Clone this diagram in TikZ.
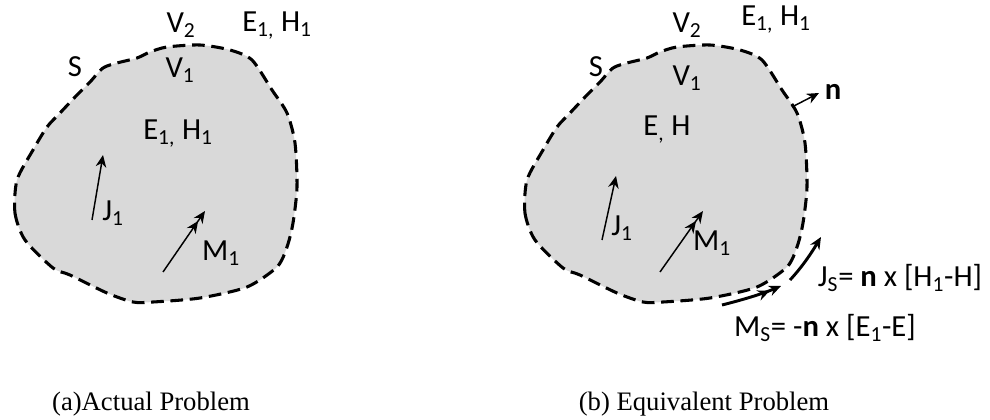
\documentclass[tikz,border=0pt]{standalone}
\usepackage{fontspec}
\setmainfont{Carlito}
\newfontfamily\capfont{Liberation Serif}
\usetikzlibrary{positioning,arrows.meta}
\newcommand{\sub}[1]{\textsubscript{#1}}
\definecolor{blobgrey}{HTML}{D9D9D9}
\tikzset{
  eq blob/.style={fill=blobgrey, draw=black, line width=2.3pt, dash pattern=on 9.5pt off 5pt},
  eq lbl/.style={font=\fontsize{23}{27}\selectfont, inner sep=1pt},
  eq arr/.style={-{Stealth[length=3.2mm, width=2.8mm]}, line width=1.1pt},
  eq arr2/.style={-{Stealth[length=3.2mm, width=2.8mm] Stealth[length=3.2mm, width=2.8mm]}, line width=1.1pt},
  eq surf/.style={line width=2.2pt},
  eq cap/.style={font=\capfont\fontsize{20}{24}\selectfont, inner sep=0pt, anchor=base},
}

\begin{document}
\begin{tikzpicture}[x=0.75pt, y=-0.75pt]
  \useasboundingbox (0,0) rectangle (990,420);
  % the same closed surface S in both panels
  \foreach \dx in {0,510}
    \draw[eq blob, shift={(\dx,0)}] plot[smooth cycle, tension=0.45] coordinates {
      (17,180) (15,213) (25,240) (53,268) (70,275) (107,293) (133,302) (153,302)
      (200,298) (247,287) (277,267) (287,247) (293,223) (297,187) (295,143) (287,113)
      (272,90) (252,60) (230,50) (200,45) (167,47) (150,52) (137,58) (117,63)
      (103,68) (90,82) (77,95) (60,113) (47,127) (33,150)};
  % (a) actual problem
  \node[eq lbl] (v2a) at (181,25) {V\sub{2}};
  \node[eq lbl] (outa) at (277,26) {E\sub{1,} H\sub{1}};
  \node[eq lbl] (sa) at (75,67) {S};
  \node[eq lbl] (v1a) at (180,70) {V\sub{1}};
  \node[eq lbl] (ina) at (178,134) {E\sub{1,} H\sub{1}};
  \node[eq lbl] (j1a) at (113,213) {J\sub{1}};
  \node[eq lbl] (m1a) at (221,253) {M\sub{1}};
  \coordinate (ja0) at (92,220);  \coordinate (ja1) at (103,155);
  \coordinate (ma0) at (163,272); \coordinate (ma1) at (205,211);
  \draw[eq arr] (ja0) -- (ja1);
  \draw[eq arr2] (ma0) -- (ma1);
  % (b) equivalent problem
  \node[eq lbl] (v2b) at (687,25) {V\sub{2}};
  \node[eq lbl] (outb) at (776,20) {E\sub{1,} H\sub{1}};
  \node[eq lbl] (sb) at (596,67) {S};
  \node[eq lbl] (v1b) at (687,78) {V\sub{1}};
  \node[eq lbl] (inb) at (667,130) {E\sub{,} H};
  \node[eq lbl] (j1b) at (622,228) {J\sub{1}};
  \node[eq lbl] (m1b) at (712,243) {M\sub{1}};
  \node[eq lbl] (nb) at (833,92) {\textbf{n}};
  \node[eq lbl] (jsb) at (900,278) {J\sub{S}= \textbf{n} x [H\sub{1}-H]};
  \node[eq lbl] (msb) at (825,328) {M\sub{S}= -\textbf{n} x [E\sub{1}-E]};
  \coordinate (jb0) at (602,240); \coordinate (jb1) at (616,176);
  \coordinate (mb0) at (660,272); \coordinate (mb1) at (703,211);
  \coordinate (n0) at (792,107);  \coordinate (n1) at (819,93);
  \coordinate (js0) at (790,280); \coordinate (js1) at (821,237);
  \coordinate (ms0) at (722,305); \coordinate (ms1) at (781,286);
  \draw[eq arr] (jb0) -- (jb1);
  \draw[eq arr2] (mb0) -- (mb1);
  \draw[eq arr] (n0) -- (n1);
  \draw[eq arr, eq surf] (js0) .. controls (803,266) and (812,252) .. (js1);
  \draw[eq arr2, eq surf] (ms0) .. controls (742,300) and (762,294) .. (ms1);
  % captions
  \node[eq cap] (capa) at (151,411) {(a)Actual Problem};
  \node[eq cap] (capb) at (704,411) {(b) Equivalent Problem};
\end{tikzpicture}
\end{document}
